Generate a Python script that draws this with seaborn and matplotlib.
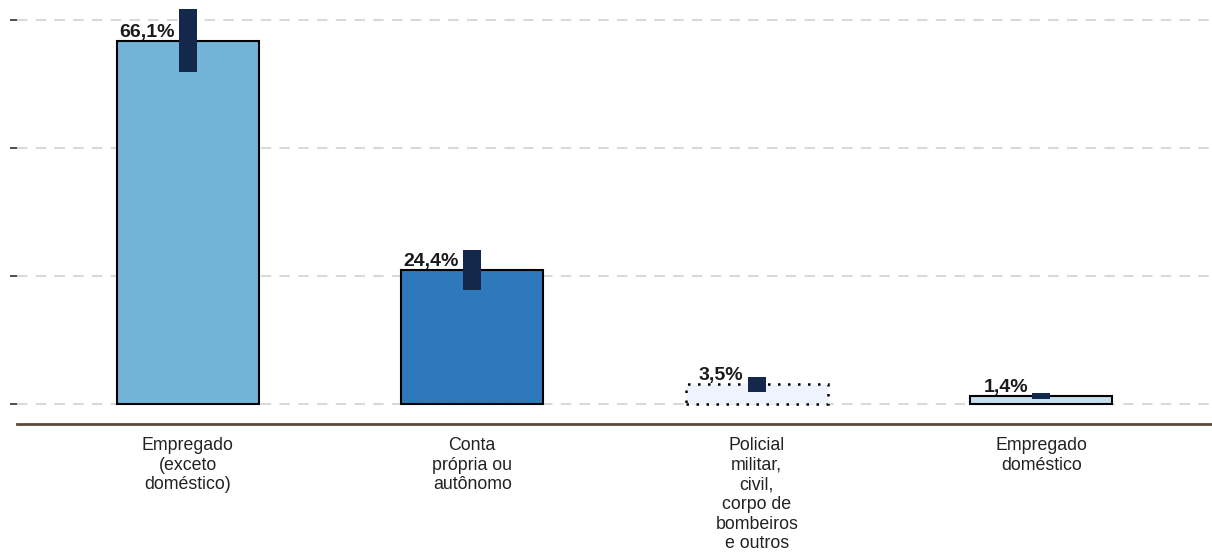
import matplotlib
matplotlib.use("Agg")
import matplotlib.pyplot as plt
import seaborn as sns
import pandas as pd

# data
categorias = [
    "Empregado\n(exceto\ndoméstico)",
    "Conta\nprópria ou\nautônomo",
    "Policial\nmilitar,\ncivil,\ncorpo de\nbombeiros\ne outros",
    "Empregado\ndoméstico",
]
percentual = [66.1, 24.4, 3.6, 1.45]
rotulos = ["66,1%", "24,4%", "3,5%", "1,4%"]
ic_inferior = [60.5, 20.8, 2.2, 0.9]
ic_superior = [71.9, 28.0, 4.9, 2.0]
cores = ["#74b3d8", "#2e79bc", "#eef3fd", "#c6dff0"]

df = pd.DataFrame({"categoria": categorias, "pct": percentual})

sns.set_style("white")
plt.rcParams["font.family"] = ["Liberation Sans", "DejaVu Sans"]

fig = plt.figure(figsize=(12.12, 5.52), dpi=100)
ax = fig.add_axes([0.014, 0.232, 0.986, 0.768])

sns.barplot(data=df, x="categoria", y="pct", hue="categoria", palette=cores,
            saturation=1, width=0.5, edgecolor="black", linewidth=1.5,
            legend=False, ax=ax, zorder=2)

# bar with low reliability -> dotted outline
ax.patches[2].set_linestyle((0, (1, 3)))
ax.patches[2].set_linewidth(1.8)

# confidence intervals as thick rectangles
for i in range(len(categorias)):
    ax.bar(i, ic_superior[i] - ic_inferior[i], bottom=ic_inferior[i], width=0.063,
           color="#14284b", linewidth=0, zorder=3)
    ax.annotate(rotulos[i], xy=(i, percentual[i]), xytext=(-9.5, 3),
                textcoords="offset points", ha="right", va="baseline",
                fontsize=14, fontweight="bold", color="#1a1a1a", zorder=4)

ax.set_xlim(-0.6, 3.6)
ax.set_ylim(-3.64, 73.6)
ax.set_yticks([0, 70 / 3, 140 / 3, 70])
ax.set_yticklabels([])
ax.yaxis.grid(True, linestyle=(0, (5, 4)), color="#d9d9d9", linewidth=1.5, zorder=0)
ax.set_axisbelow(True)

for s in ["left", "right", "top"]:
    ax.spines[s].set_visible(False)
ax.spines["bottom"].set_color("#5a4a3a")
ax.spines["bottom"].set_linewidth(2)

ax.tick_params(axis="y", left=True, length=5, width=1.2, color="#3a2e22")
ax.tick_params(axis="x", bottom=False, pad=6, labelsize=12.8, labelcolor="#222222")
ax.set_xlabel("")
ax.set_ylabel("")

fig.savefig("out.png", dpi=100)
